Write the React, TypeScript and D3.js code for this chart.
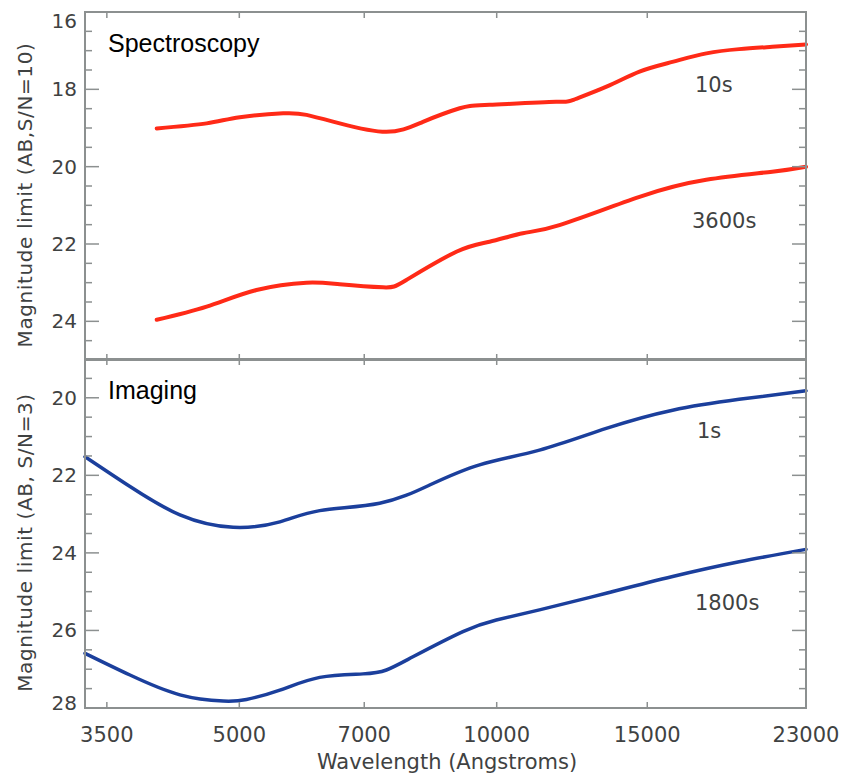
import * as d3 from "d3";

const X_TICKS = [3500, 5000, 7000, 10000, 15000, 23000];

// Spectroscopy, S/N=10
const SPEC_10S_WAVE = [4003, 4579, 5007, 5627, 5992, 6552, 7430, 8199, 9051, 9809, 11737, 12265, 13440, 14690, 16050, 17590, 19210, 21000, 23000];
const SPEC_10S_MAG = [19.01, 18.88, 18.72, 18.62, 18.66, 18.88, 19.1, 18.84, 18.49, 18.4, 18.32, 18.28, 17.93, 17.54, 17.29, 17.07, 16.96, 16.9, 16.84];
const SPEC_3600S_WAVE = [4003, 4579, 5237, 5992, 6552, 7362, 7841, 8970, 9809, 10728, 11840, 14690, 17580, 21000, 23000];
const SPEC_3600S_MAG = [23.96, 23.62, 23.19, 23.0, 23.04, 23.12, 22.93, 22.2, 21.94, 21.72, 21.51, 20.78, 20.34, 20.13, 20.0];

// Imaging, S/N=3
const IMG_1S_WAVE = [3300, 3725, 4261, 4918, 5577, 6209, 7296, 8348, 9548, 11220, 13430, 16060, 19210, 23000];
const IMG_1S_MAG = [21.52, 22.29, 23.02, 23.34, 23.2, 22.91, 22.72, 22.25, 21.73, 21.35, 20.79, 20.32, 20.04, 19.82];
const IMG_1800S_WAVE = [3300, 3725, 4261, 4788, 5098, 5577, 6209, 6976, 7430, 7980, 9130, 9990, 11220, 13430, 16060, 19210, 23000];
const IMG_1800S_MAG = [26.59, 27.15, 27.66, 27.82, 27.78, 27.54, 27.21, 27.12, 27.02, 26.68, 26.03, 25.73, 25.47, 25.04, 24.61, 24.23, 23.91];

const SPEC_Y_TICKS = [16, 18, 20, 22, 24];
const IMG_Y_TICKS = [20, 22, 24, 26, 28];

const LEFT = 85;
const RIGHT = 806;
const FRAME = "#8c9090";
const TEXT = "#3f4242";
const FONT = "'DejaVu Sans', sans-serif";

const x = d3.scaleLog().domain([3300, 23000]).range([LEFT, RIGHT]);

type PanelProps = {
  top: number;
  bottom: number;
  domain: [number, number];
  majors: number[];
  series: { wave: number[]; mag: number[]; color: string; width: number }[];
  title: string;
  yTitle: string;
  labels: { text: string; x: number; y: number }[];
};

function Panel({ top, bottom, domain, majors, series, title, yTitle, labels }: PanelProps) {
  const y = d3.scaleLinear().domain(domain).range([top, bottom]);
  const minors = d3.range(domain[0], domain[1] + 0.001, 0.5).filter((v) => !majors.includes(v));
  const line = d3
    .line<[number, number]>()
    .x((d) => x(d[0]))
    .y((d) => y(d[1]))
    .curve(d3.curveNatural);
  const mid = (top + bottom) / 2;

  return (
    <g>
      {series.map((s, i) => (
        <path
          key={i}
          d={line(s.wave.map((w, j) => [w, s.mag[j]] as [number, number])) ?? undefined}
          fill="none"
          stroke={s.color}
          strokeWidth={s.width}
          strokeLinecap="round"
          strokeLinejoin="round"
        />
      ))}
      <rect x={LEFT} y={top} width={RIGHT - LEFT} height={bottom - top} fill="none" stroke={FRAME} strokeWidth="2" />
      {X_TICKS.map((t) => (
        <g key={t}>
          <line x1={x(t)} x2={x(t)} y1={top} y2={top + 6} stroke={FRAME} strokeWidth="1.5" />
          <line x1={x(t)} x2={x(t)} y1={bottom} y2={bottom - 6} stroke={FRAME} strokeWidth="1.5" />
        </g>
      ))}
      {majors.map((t) => (
        <g key={t}>
          <line x1={LEFT} x2={LEFT + 14} y1={y(t)} y2={y(t)} stroke={FRAME} strokeWidth="1.5" />
          <line x1={RIGHT} x2={RIGHT - 14} y1={y(t)} y2={y(t)} stroke={FRAME} strokeWidth="1.5" />
          <text
            x={77}
            y={Math.min(Math.max(y(t), top + 9), bottom - 5)}
            textAnchor="end"
            dominantBaseline="central"
            fontFamily={FONT}
            fontSize="20"
            fill={TEXT}
          >
            {t}
          </text>
        </g>
      ))}
      {minors.map((t) => (
        <g key={t}>
          <line x1={LEFT} x2={LEFT + 7} y1={y(t)} y2={y(t)} stroke={FRAME} strokeWidth="1.5" />
          <line x1={RIGHT} x2={RIGHT - 7} y1={y(t)} y2={y(t)} stroke={FRAME} strokeWidth="1.5" />
        </g>
      ))}
      <text x={108} y={top + 40} fontFamily="'Liberation Sans', Arial, sans-serif" fontSize="25" fill="#000">
        {title}
      </text>
      {labels.map((l) => (
        <text key={l.text} x={l.x} y={l.y} fontFamily={FONT} fontSize="21" fill={TEXT}>
          {l.text}
        </text>
      ))}
      <text
        x={32}
        y={mid + 9}
        transform={`rotate(-90 32 ${mid + 9})`}
        textAnchor="middle"
        fontFamily={FONT}
        fontSize="20"
        letterSpacing="0.6"
        fill={TEXT}
      >
        {yTitle}
      </text>
    </g>
  );
}

export default function App() {
  return (
    <div style={{ position: "absolute", left: 0, top: 0 }}>
      <svg width={843} height={774} viewBox="0 0 843 774" style={{ display: "block", background: "#fff" }}>
        <Panel
          top={12}
          bottom={360}
          domain={[16, 25]}
          majors={SPEC_Y_TICKS}
          series={[
            { wave: SPEC_10S_WAVE, mag: SPEC_10S_MAG, color: "#ff2a17", width: 4 },
            { wave: SPEC_3600S_WAVE, mag: SPEC_3600S_MAG, color: "#ff2a17", width: 4 },
          ]}
          title="Spectroscopy"
          yTitle="Magnitude limit (AB,S/N=10)"
          labels={[
            { text: "10s", x: 695, y: 92 },
            { text: "3600s", x: 692, y: 228 },
          ]}
        />
        <Panel
          top={359}
          bottom={708}
          domain={[19, 28]}
          majors={IMG_Y_TICKS}
          series={[
            { wave: IMG_1S_WAVE, mag: IMG_1S_MAG, color: "#1b3f9c", width: 3.5 },
            { wave: IMG_1800S_WAVE, mag: IMG_1800S_MAG, color: "#1b3f9c", width: 3.5 },
          ]}
          title="Imaging"
          yTitle="Magnitude limit (AB, S/N=3)"
          labels={[
            { text: "1s", x: 697, y: 438 },
            { text: "1800s", x: 695, y: 610 },
          ]}
        />
        {X_TICKS.map((t) => (
          <text key={t} x={x(t)} y={742} textAnchor="middle" fontFamily={FONT} fontSize="21" fill={TEXT}>
            {t}
          </text>
        ))}
        <text x={447} y={769} textAnchor="middle" fontFamily={FONT} fontSize="21" fill={TEXT}>
          Wavelength (Angstroms)
        </text>
      </svg>
    </div>
  );
}
